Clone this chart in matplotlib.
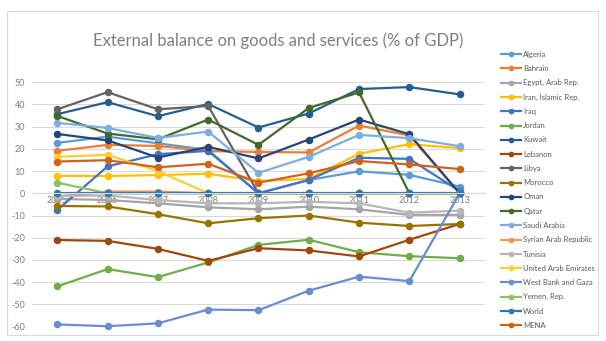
import matplotlib
matplotlib.use('Agg')
import matplotlib.pyplot as plt
from matplotlib.patches import Rectangle

plt.rcParams['font.family'] = ['Lato', 'DejaVu Sans']
plt.rcParams['axes.unicode_minus'] = False

# Data (% of GDP)
years = ['2005', '2006', '2007', '2008', '2009', '2010', '2011', '2012', '2013']
algeria = [22.7, 25.5, 22.5, 19.5, 0.0, 6.0, 9.9, 8.3, 3.0]
bahrain = [19.1, 21.8, 21.3, 19.0, 18.6, 18.4, 30.5, 26.0, 0.0]
egypt = [-2.5, -3.0, -4.5, -6.3, -7.2, -6.0, -7.2, -9.7, -9.7]
iran = [7.9, 7.8, 8.2, 8.8, 5.5, 6.5, 17.8, 22.1, 20.3]
iraq = [-7.5, 12.1, 17.6, 19.1, 0.0, 6.0, 16.0, 15.5, 1.0]
jordan = [-41.9, -34.1, -37.7, -31.1, -23.2, -20.9, -26.5, -28.3, -29.2]
kuwait = [35.6, 41.0, 34.7, 40.2, 29.6, 35.9, 46.9, 47.8, 44.5]
lebanon = [-21.0, -21.4, -25.0, -30.4, -24.7, -25.7, -28.4, -20.9, -13.8]
libya = [37.8, 45.5, 37.8, 39.3, 0.0, 0.0, 0.0, 0.0, 0.0]
morocco = [-5.7, -5.9, -9.4, -13.5, -11.2, -10.0, -13.2, -14.7, -13.8]
oman = [26.7, 23.8, 16.1, 20.9, 15.7, 24.2, 33.2, 26.6, 0.0]
qatar = [34.8, 26.9, 24.3, 33.2, 21.8, 38.4, 45.4, 0.0, 0.0]
saudi = [31.7, 29.4, 24.9, 27.8, 9.2, 16.4, 26.3, 24.8, 21.2]
syria = [-1.5, 0.8, 0.8, 0.0, 0.0, 0.0, 0.0, 0.0, 0.0]
tunisia = [-1.2, -1.0, -3.0, -4.5, -4.5, -3.8, -4.5, -8.7, -7.8]
uae = [16.4, 17.3, 10.0, 0.0, 0.0, 0.0, 0.0, 0.0, 0.0]
west_bank = [-59.0, -59.8, -58.5, -52.3, -52.6, -43.8, -37.5, -39.5, 0.0]
yemen = [4.8, 0.0, 0.0, 0.0, 0.0, 0.0, 0.0, 0.0, 0.0]
world = [0.0, 0.0, 0.0, 0.0, 0.0, 0.0, 0.0, 0.0, 0.0]
mena = [14.3, 14.9, 11.7, 13.3, 4.8, 9.0, 14.5, 13.0, 10.9]

series = [
    ('Algeria', algeria, '#5B9BD5'),
    ('Bahrain', bahrain, '#ED7D31'),
    ('Egypt, Arab Rep.', egypt, '#A5A5A5'),
    ('Iran, Islamic Rep.', iran, '#FFC000'),
    ('Iraq', iraq, '#4472C4'),
    ('Jordan', jordan, '#70AD47'),
    ('Kuwait', kuwait, '#255E91'),
    ('Lebanon', lebanon, '#9E480E'),
    ('Libya', libya, '#636363'),
    ('Morocco', morocco, '#997300'),
    ('Oman', oman, '#264478'),
    ('Qatar', qatar, '#43682B'),
    ('Saudi Arabia', saudi, '#7CAFDD'),
    ('Syrian Arab Republic', syria, '#F1975A'),
    ('Tunisia', tunisia, '#B7B7B7'),
    ('United Arab Emirates', uae, '#FFCD33'),
    ('West Bank and Gaza', west_bank, '#698ED0'),
    ('Yemen, Rep.', yemen, '#8CC168'),
    ('World', world, '#2E75B6'),
    ('MENA', mena, '#D0631A'),
]

fig = plt.figure(figsize=(6.06, 3.41), dpi=100)
ax = fig.add_axes([0.053, 0.042, 0.747, 0.717])

x = list(range(len(years)))
for name, vals, col in series:
    ax.plot(x, vals, color=col, lw=1.6, marker='o', ms=4.4, label=name,
            clip_on=False, solid_joinstyle='round')

ax.set_xlim(-0.5, len(years) - 0.5)
ax.set_ylim(-60, 50)
ax.set_yticks(range(-60, 51, 10))
ax.set_yticklabels([str(v) for v in range(-60, 51, 10)])
ax.set_xticks(x)
ax.set_xticklabels(years)
ax.grid(axis='y', color='#D9D9D9', lw=0.75)
ax.set_axisbelow(True)
for s in ['top', 'right', 'left']:
    ax.spines[s].set_visible(False)
ax.spines['bottom'].set_position(('data', 0))
ax.spines['bottom'].set_color('#D9D9D9')
ax.tick_params(axis='both', length=0, labelsize=6.5, colors='#7F7F7F')
ax.tick_params(axis='x', pad=2)
ax.tick_params(axis='y', pad=5)

fig.text(0.459, 0.88, 'External balance on goods and services (% of GDP)',
         ha='center', va='center', fontsize=12, color='#7F7F7F')

leg = ax.legend(loc='upper left', bbox_to_anchor=(0.822, 0.86),
                bbox_transform=fig.transFigure, frameon=False, fontsize=5.5,
                handlelength=2.6, handletextpad=0.3, labelspacing=0.95,
                markerscale=0.7, borderaxespad=0)
for t in leg.get_texts():
    t.set_color('#595959')

fig.patches.append(Rectangle((0.012, 0.018), 0.975, 0.95, transform=fig.transFigure,
                             fill=False, edgecolor='#D9D9D9', lw=0.8))

fig.savefig('out.png', dpi=100)
